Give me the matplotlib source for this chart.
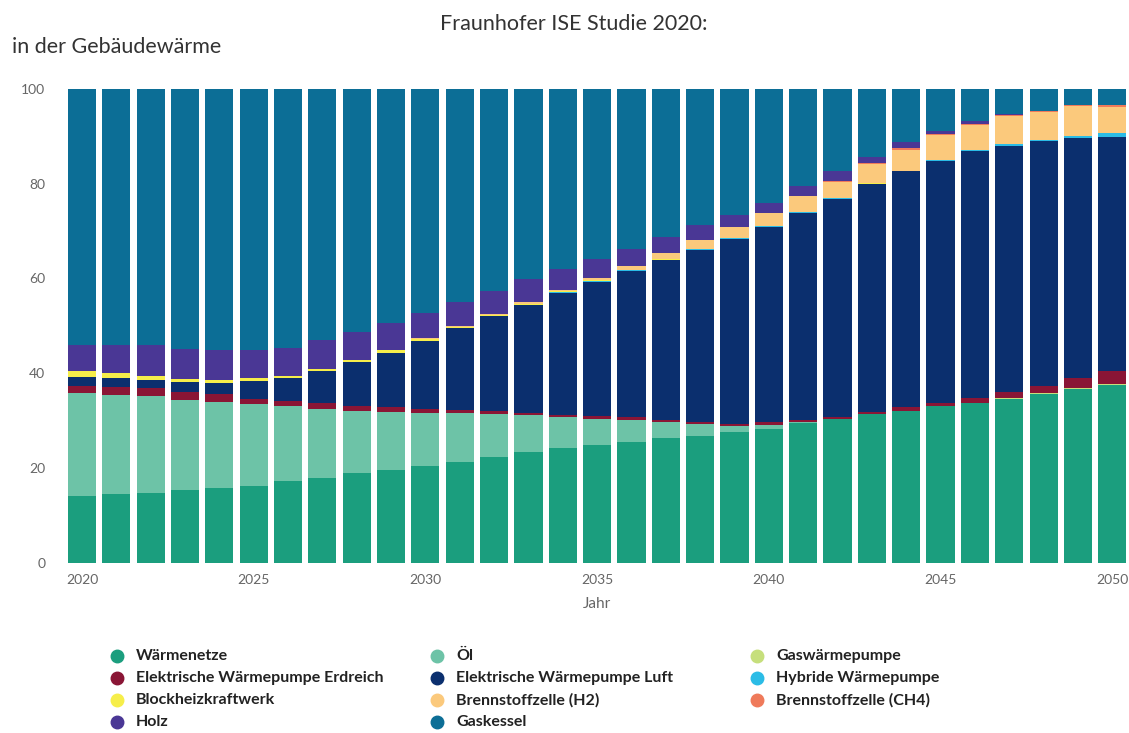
import numpy as np
import matplotlib
matplotlib.use("Agg")
import matplotlib.pyplot as plt
from matplotlib.lines import Line2D

plt.rcParams["font.family"] = ["Lato", "DejaVu Sans"]

years = list(range(2020, 2051))

# shares in percent (stack order bottom -> top)
waermenetze = [14.1, 14.5, 14.8, 15.3, 15.8, 16.3, 17.2, 18.0, 18.9, 19.6, 20.5,
               21.2, 22.3, 23.4, 24.3, 24.8, 25.6, 26.4, 26.8, 27.6, 28.3,
               29.6, 30.4, 31.4, 32.1, 33.0, 33.8, 34.6, 35.7, 36.6, 37.6]
oel = [21.7, 20.9, 20.4, 19.1, 18.1, 17.2, 15.8, 14.5, 13.2, 12.3, 11.1,
       10.4, 9.1, 7.7, 6.4, 5.6, 4.5, 3.3, 2.4, 1.2, 0.8,
       0.2, 0, 0, 0, 0, 0, 0, 0, 0, 0]
gaswp = [0, 0, 0, 0, 0, 0, 0, 0, 0, 0, 0,
         0, 0, 0, 0, 0, 0, 0, 0, 0, 0,
         0, 0, 0, 0, 0, 0, 0.1, 0.2, 0.2, 0.2]
wp_erdreich = [1.6, 1.7, 1.6, 1.7, 1.7, 1.1, 1.2, 1.2, 1.0, 0.9, 0.8,
               0.6, 0.6, 0.6, 0.5, 0.6, 0.6, 0.5, 0.5, 0.5, 0.6,
               0.3, 0.3, 0.5, 0.7, 0.8, 0.9, 1.3, 1.4, 2.2, 2.6]
wp_luft = [1.9, 1.9, 1.8, 2.0, 2.3, 3.7, 4.8, 6.7, 9.2, 11.4, 14.5,
           17.3, 20.0, 22.7, 25.8, 28.3, 30.9, 33.6, 36.3, 39.1, 41.2,
           43.7, 46.1, 48.0, 49.8, 51.0, 52.1, 52.0, 51.6, 50.6, 49.5]
hybrid = [0, 0, 0, 0, 0, 0, 0, 0, 0, 0, 0,
          0, 0, 0, 0.1, 0.1, 0.1, 0.1, 0.1, 0.1, 0.1,
          0.1, 0.1, 0.1, 0.1, 0.2, 0.3, 0.3, 0.3, 0.4, 0.7]
bhkw = [1.1, 1.0, 0.8, 0.7, 0.7, 0.7, 0.5, 0.5, 0.5, 0.6, 0.4,
        0.3, 0.3, 0.3, 0.2, 0.2, 0.1, 0.1, 0.1, 0.1, 0.1,
        0.1, 0.1, 0.1, 0, 0, 0, 0, 0, 0, 0]
bz_h2 = [0, 0, 0, 0, 0, 0, 0, 0, 0, 0, 0.1,
         0.1, 0.2, 0.3, 0.3, 0.5, 0.9, 1.3, 1.8, 2.3, 2.7,
         3.3, 3.4, 4.1, 4.4, 5.3, 5.3, 5.9, 5.9, 6.3, 5.5]
bz_ch4 = [0, 0, 0, 0, 0, 0, 0, 0, 0, 0, 0,
          0, 0, 0, 0, 0, 0, 0, 0, 0, 0,
          0, 0.1, 0.2, 0.3, 0.2, 0.2, 0.2, 0.3, 0.2, 0.4]
holz = [5.6, 6.0, 6.5, 6.3, 6.3, 5.9, 5.8, 6.1, 6.0, 5.7, 5.2,
        5.2, 4.9, 4.8, 4.4, 4.0, 3.5, 3.5, 3.3, 2.5, 2.2,
        2.1, 2.1, 1.1, 1.3, 0.5, 0.5, 0.3, 0, 0, 0]
gaskessel = [54.0, 54.0, 54.1, 54.9, 55.1, 55.1, 54.7, 53.0, 51.2, 49.5, 47.4,
             44.9, 42.6, 40.2, 38.0, 35.9, 33.8, 31.2, 28.7, 26.6, 24.0,
             20.6, 17.4, 14.4, 11.3, 9.0, 6.9, 5.3, 4.6, 3.5, 3.5]

labels = ["Wärmenetze", "Öl", "Gaswärmepumpe",
          "Elektrische Wärmepumpe Erdreich", "Elektrische Wärmepumpe Luft", "Hybride Wärmepumpe",
          "Blockheizkraftwerk", "Brennstoffzelle (H2)", "Brennstoffzelle (CH4)",
          "Holz", "Gaskessel"]
series = [waermenetze, oel, gaswp, wp_erdreich, wp_luft, hybrid,
          bhkw, bz_h2, bz_ch4, holz, gaskessel]
colors = ["#1b9e7e", "#6dc3a7", "#c6df7c", "#8a1535", "#0b2f6e", "#2bbce6",
          "#f6ee4a", "#fbc97c", "#ef7a5a", "#4a3795", "#0c6e96"]

fig = plt.figure(figsize=(11.29, 7.33), dpi=100)
ax = fig.add_axes([0.0574, 0.232, 0.943, 0.647])

bottom = np.zeros(len(years))
for vals, lab, col in zip(series, labels, colors):
    vals = np.array(vals, dtype=float)
    ax.bar(years, vals, bottom=bottom, width=0.82, color=col, linewidth=0, label=lab)
    bottom += vals

ax.set_xlim(2019.5, 2050.5)
ax.set_ylim(0, 100)
ax.set_yticks([0, 20, 40, 60, 80, 100])
ax.set_xticks(list(range(2020, 2051, 5)))
for s in ax.spines.values():
    s.set_visible(False)
ax.tick_params(axis="both", length=0, labelsize=10, colors="#666666")
ax.tick_params(axis="y", pad=14)
ax.tick_params(axis="x", pad=8)
ax.set_xlabel("Jahr", fontsize=11, color="#666666", labelpad=8)

fig.text(0.508, 0.967, "Fraunhofer ISE Studie 2020:", ha="center", va="center",
         fontsize=15.5, color="#333333")
fig.text(0.011, 0.936, "in der Gebäudewärme", ha="left", va="center",
         fontsize=15.5, color="#333333")

# legend, row-major in three columns
col_x = [0.1036, 0.387, 0.6705]
row_y = [0.105, 0.075, 0.045, 0.015]
for i, (lab, col) in enumerate(zip(labels, colors)):
    r, c = divmod(i, 3)
    fig.add_artist(Line2D([col_x[c]], [row_y[r]], marker="o", markersize=9,
                          color=col, linestyle="none", transform=fig.transFigure))
    fig.text(col_x[c] + 0.017, row_y[r], lab, ha="left", va="center",
             fontsize=11.5, fontweight="bold", color="#222222")

fig.savefig("out.png", dpi=100)
